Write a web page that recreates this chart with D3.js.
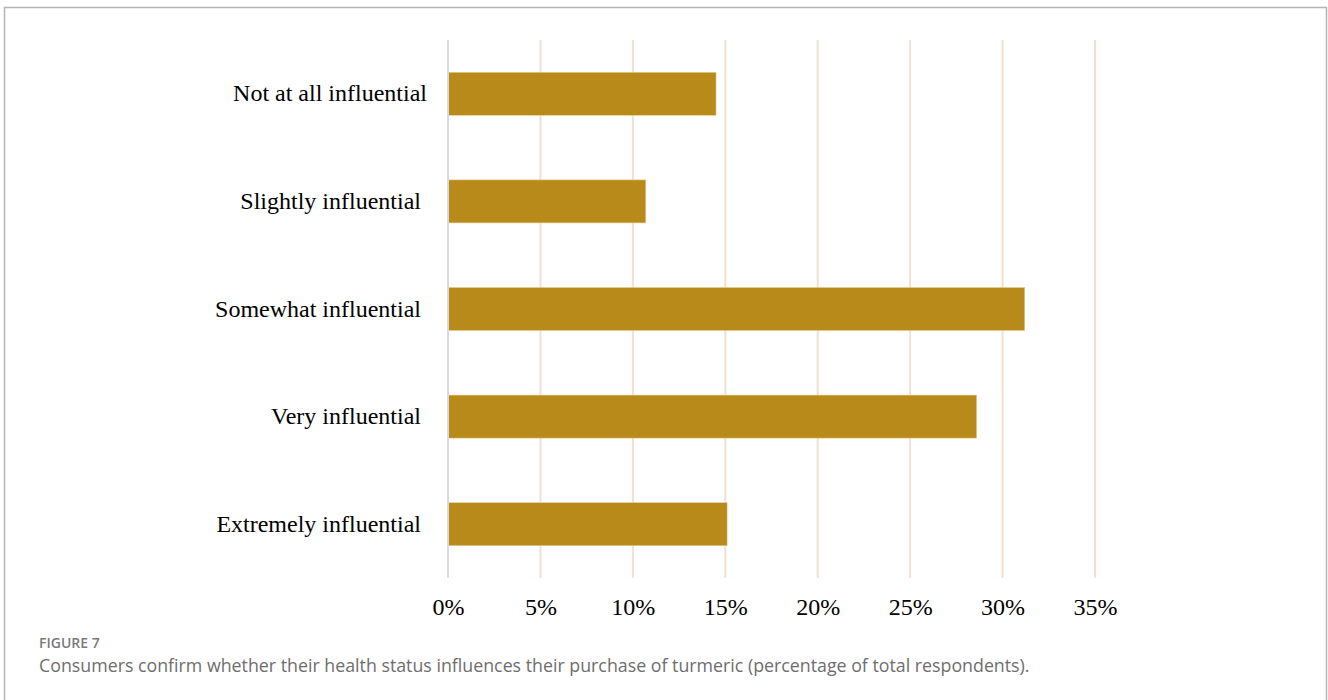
<!DOCTYPE html>
<html>
<head>
<meta charset="utf-8">
<script src="https://cdn.jsdelivr.net/npm/d3@7"></script>
<style>
  html, body { margin: 0; padding: 0; background: #fff; }
  svg { display: block; }
</style>
</head>
<body>
<svg id="chart" width="1328" height="700"></svg>
<script>
// Survey responses: does health status influence turmeric purchase?
const categories = [
  "Not at all influential",
  "Slightly influential\u00a0",
  "Somewhat influential\u00a0",
  "Very influential\u00a0",
  "Extremely influential\u00a0"
];
const shares = [14.5, 10.7, 31.2, 28.6, 15.1];   // % of total respondents
const xTicks = [0, 5, 10, 15, 20, 25, 30, 35];

const figureLabel = "FIGURE 7";
const captionText = "Consumers confirm whether their health status influences their purchase of turmeric (percentage of total respondents).";

const svg = d3.select("#chart");
const W = 1328, H = 700;

// Figure frame (top, left, right)
svg.append("path")
  .attr("d", `M4.5,${H} V7.5 H1326.5 V${H}`)
  .attr("fill", "none")
  .attr("stroke", "#b4b4b4")
  .attr("stroke-width", 1.5);

const plot = { left: 448, right: 1095, top: 40, bottom: 578 };

const x = d3.scaleLinear().domain([0, 35]).range([plot.left, plot.right]);
const y = d3.scaleBand().domain(categories).range([plot.top, plot.bottom]).paddingInner(0.6).paddingOuter(0.3);

// Vertical gridlines
svg.append("g")
  .selectAll("line")
  .data(xTicks.filter(t => t > 0))
  .join("line")
  .attr("x1", d => x(d)).attr("x2", d => x(d))
  .attr("y1", plot.top).attr("y2", plot.bottom)
  .attr("stroke", "#f3dfd3")
  .attr("stroke-width", 2);

// Bars
svg.append("g")
  .selectAll("rect")
  .data(categories.map((c, i) => ({ c, v: shares[i] })))
  .join("rect")
  .attr("x", x(0))
  .attr("y", d => y(d.c))
  .attr("width", d => x(d.v) - x(0))
  .attr("height", y.bandwidth())
  .attr("fill", "#b88a1a")
  .attr("stroke", "#e8cf9a")
  .attr("stroke-width", 0.6);

// Baseline at 0%
svg.append("line")
  .attr("x1", x(0)).attr("x2", x(0))
  .attr("y1", plot.top).attr("y2", plot.bottom)
  .attr("stroke", "#d9d9d9")
  .attr("stroke-width", 2);

const serif = "'Liberation Serif', 'Times New Roman', serif";

// X axis labels
const xAxis = d3.axisBottom(x).tickValues(xTicks).tickFormat(d => d + "%").tickSize(0).tickPadding(0);
const gx = svg.append("g").attr("transform", `translate(0, ${plot.bottom + 20})`).call(xAxis);
gx.select(".domain").remove();
gx.selectAll("text")
  .attr("font-family", serif)
  .attr("font-size", 24)
  .attr("fill", "#000");

// Y axis labels
const yAxis = d3.axisLeft(y).tickSize(0).tickPadding(0);
const gy = svg.append("g").attr("transform", `translate(${plot.left - 21}, 0)`).call(yAxis);
gy.select(".domain").remove();
gy.selectAll("text")
  .attr("font-family", serif)
  .attr("font-size", 24)
  .attr("fill", "#000")
  .style("white-space", "pre");

// Caption
svg.append("text")
  .attr("x", 39).attr("y", 648)
  .attr("font-family", "'Open Sans', Lato, sans-serif")
  .attr("font-size", 14)
  .attr("font-weight", 600)
  .attr("fill", "#7a7a7a")
  .text(figureLabel);

svg.append("text")
  .attr("x", 39).attr("y", 672)
  .attr("font-family", "'Open Sans', Lato, sans-serif")
  .attr("font-size", 17.8)
  .attr("fill", "#6e6e6e")
  .text(captionText);
</script>
</body>
</html>
